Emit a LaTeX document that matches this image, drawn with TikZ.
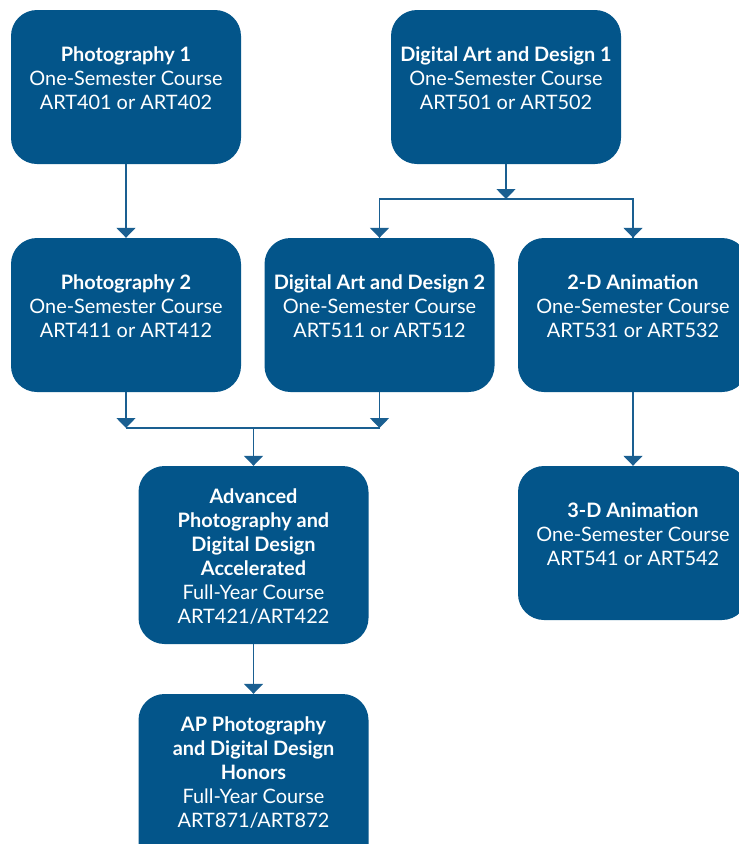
\documentclass[tikz,border=0pt]{standalone}
\usepackage{fontspec}
\setmainfont{Lato}
\usetikzlibrary{arrows.meta}
\definecolor{boxblue}{HTML}{03558A}
\definecolor{lineblue}{HTML}{1A5F91}
\tikzset{
  course/.style={rectangle, rounded corners=26pt, fill=boxblue, draw=none,
    minimum width=230pt, minimum height=154pt, inner sep=0pt},
  tall/.style={minimum height=178pt},
  txt/.style={text=white, align=center, inner sep=0pt,
    font=\fontsize{19.9}{24}\selectfont},
  conn/.style={draw=lineblue, line width=1.6pt},
  arr/.style={conn, -{Triangle[width=19pt,length=10pt]}},
}
\begin{document}
\begin{tikzpicture}[x=1pt,y=-1pt]
\useasboundingbox (0,0) rectangle (739,844);
\clip (0,0) rectangle (739,844);
% boxes
\node[course] (p1) at (126,87) {};
\node[course] (d1) at (506,87) {};
\node[course] (p2) at (126,315) {};
\node[course] (d2) at (379.5,315) {};
\node[course] (a2) at (633,315) {};
\node[course,tall] (adv) at (253.5,555) {};
\node[course,tall] (ap) at (253.5,783) {};
\node[course] (a3) at (633,543) {};
% texts
\node[txt] (p1t) at (126,81) {\strut\textbf{Photography 1}\\One-Semester Course\\ART401 or ART402\strut};
\node[txt] (d1t) at (506,81) {\strut\textbf{Digital Art and Design 1}\\One-Semester Course\\ART501 or ART502\strut};
\node[txt] (p2t) at (126,309) {\strut\textbf{Photography 2}\\One-Semester Course\\ART411 or ART412\strut};
\node[txt] (d2t) at (379.5,309) {\strut\textbf{Digital Art and Design 2}\\One-Semester Course\\ART511 or ART512\strut};
\node[txt] (a2t) at (633,309) {\strut\textbf{2-D Animation}\\One-Semester Course\\ART531 or ART532\strut};
\node[txt] (a3t) at (633,537) {\strut\textbf{3-D Animation}\\One-Semester Course\\ART541 or ART542\strut};
\node[txt] (advt) at (253.5,559) {\strut\textbf{Advanced}\\\textbf{Photography and}\\\textbf{Digital Design}\\\textbf{Accelerated}\\Full-Year Course\\ART421/ART422\strut};
\node[txt] (apt) at (253.5,775) {\strut\textbf{AP Photography}\\\textbf{and Digital Design}\\\textbf{Honors}\\Full-Year Course\\ART871/ART872\strut};
% junction coordinates
\coordinate (j1) at (506,199);
\coordinate (jl) at (126,428);
\coordinate (jr) at (379.5,428);
\coordinate (jm) at (253.5,428);
% connectors
\draw[arr] (p1) -- (p2);
\draw[arr] (d1.south) -- (j1);
\draw[conn] (j1) -| (d2.north);
\draw[conn] (j1) -| (a2.north);
\draw[arr] (d2.north |- j1) -- (d2.north);
\draw[arr] (a2.north |- j1) -- (a2.north);
\draw[arr] (p2.south) -- (jl);
\draw[arr] (d2.south) -- (jr);
\draw[conn] (jl) -- (jr);
\draw[arr] (jm) -- (adv.north);
\draw[arr] (adv.south) -- (ap.north);
\draw[arr] (a2.south) -- (a3.north);
\end{tikzpicture}
\end{document}
